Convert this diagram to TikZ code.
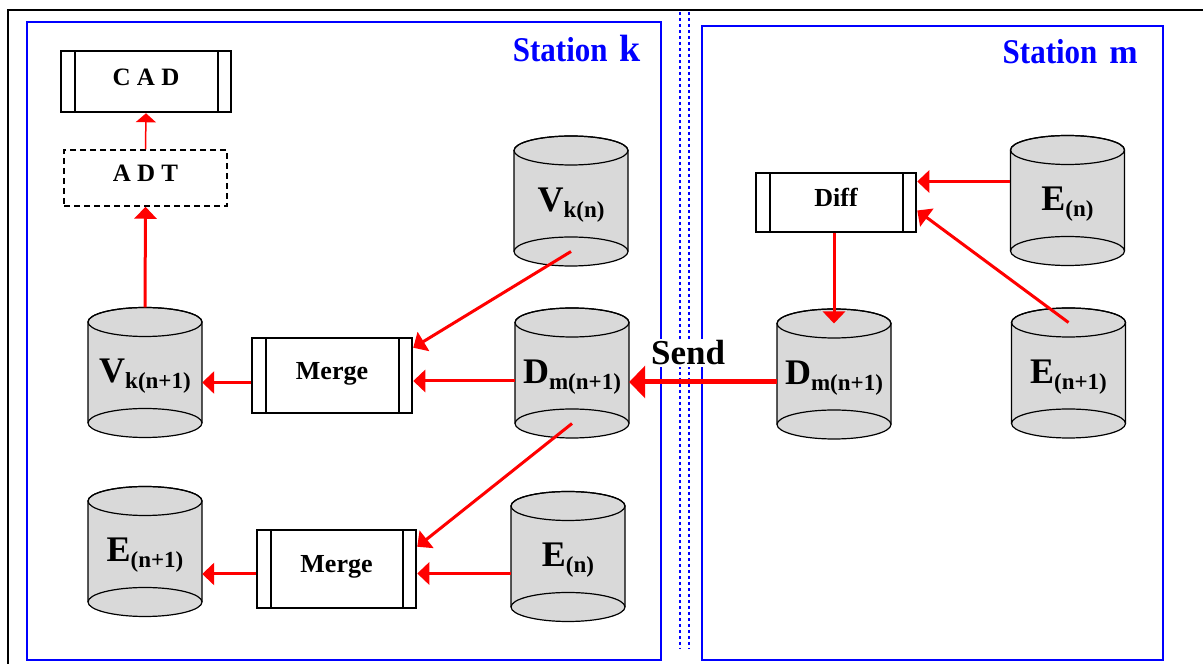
\documentclass[tikz,border=0pt]{standalone}
\usepackage{fontspec}
\setmainfont{Liberation Serif}
\usetikzlibrary{arrows.meta,calc}

\newcommand{\lab}[2]{{\fontsize{36}{36}\selectfont #1}\raisebox{-6pt}{\fontsize{23}{23}\selectfont #2}}
\newcommand{\dbase}[4]{%
  \filldraw[cyl,fill=black!15] (#2-57,#3+50.5) -- (#2-57,#3-50.5)
    arc (180:360:57pt and 14.5pt) -- (#2+57,#3+50.5)
    arc (0:180:57pt and 14.5pt) -- cycle;
  \draw[cyl] (#2,#3+50.5) ellipse (57pt and 14.5pt);
  \draw[cyl] (#2-57,#3-50.5) arc (180:0:57pt and 14.5pt);
  \node[store] (#1) at (#2,#3) {#4};
  \coordinate (#1-top) at (#2,#3+50.5);
  \coordinate (#1-bot) at (#2,#3-50.5);
}

\begin{document}
\begin{tikzpicture}[x=1pt,y=1pt]
      \tikzset{cyl/.style={draw=black,line width=1.2pt},
        store/.style={inner sep=0pt,minimum width=114pt,minimum height=130pt,
          text height=24pt,text depth=3pt,font=\bfseries},
        process/.style={draw,line width=2.5pt,inner sep=0pt,
          text height=17pt,text depth=9pt,
          font=\bfseries\fontsize{25}{25}\selectfont,
          path picture={
            \draw[line width=2pt] ([xshift=13.5pt]path picture bounding box.north west)
              -- ([xshift=13.5pt]path picture bounding box.south west);
            \draw[line width=2pt] ([xshift=-13.5pt]path picture bounding box.north east)
              -- ([xshift=-13.5pt]path picture bounding box.south east);}},
        adtbox/.style={draw,line width=1.5pt,dash pattern=on 6pt off 4pt,inner sep=0pt,
          text height=17pt,text depth=9pt,
          font=\bfseries\fontsize{25}{25}\selectfont},
        station/.style={draw=blue,line width=2.5pt},
        sepline/.style={draw=blue,line width=2pt,dash pattern=on 3pt off 3pt},
        stationlbl/.style={text=blue,font=\bfseries,inner sep=0pt,anchor=base east},
        flow/.style={draw=red,line width=3pt,-{Triangle[width=22pt,length=12pt]}},
        flowthin/.style={draw=red,line width=1.5pt,-{Triangle[width=20pt,length=9pt]}},
        sendflow/.style={draw=red,line width=5pt,-{Triangle[width=32pt,length=16pt]}}
      }
      \useasboundingbox (0,0) rectangle (1203,664);
      \draw[line width=2pt] (8,-5) -- (8,654) -- (1210,654);

      \draw[station] (27,4) rectangle (661,642);
      \draw[station] (702,4) rectangle (1163,638);
      \draw[sepline] (680,652) -- (680,15);
      \draw[sepline] (689,652) -- (689,15);

      \node[stationlbl] (stk) at (641,602)
        {\scalebox{1}[1.12]{\fontsize{31}{31}\selectfont Station}\hspace{12pt}{\fontsize{38}{38}\selectfont k}};
      \node[stationlbl] (stm) at (1138,600)
        {\scalebox{1}[1.12]{\fontsize{31}{31}\selectfont Station}\hspace{12pt}{\fontsize{34}{34}\selectfont m}};

      \dbase{Vkn}{571}{463}{\lab{V}{k(n)}}
      \dbase{Vk1}{145}{291.5}{\lab{V}{k(n+1)}}
      \dbase{Dl}{572}{291}{\lab{D}{m(n+1)}}
      \dbase{El1}{145}{112.5}{\lab{E}{(n+1)}}
      \dbase{Eln}{568}{107.5}{\lab{E}{(n)}}
      \dbase{Dr}{834}{290}{\lab{D}{m(n+1)}}
      \dbase{Ern}{1067.5}{463.5}{\lab{E}{(n)}}
      \dbase{Er1}{1068.5}{291}{\lab{E}{(n+1)}}

      \node[process,minimum width=170pt,minimum height=61pt] (CAD) at (146,582.5) {C A D};
      \node[adtbox,minimum width=163pt,minimum height=56pt] (ADT) at (145.5,486) {A D T};
      \node[process,minimum width=160pt,minimum height=75pt,
        font=\bfseries\fontsize{26}{26}\selectfont] (Merge1) at (332,288.5) {Merge};
      \node[process,minimum width=159pt,minimum height=78pt,
        font=\bfseries\fontsize{26}{26}\selectfont] (Merge2) at (336.5,95) {Merge};
      \node[process,minimum width=160pt,minimum height=59pt,
        font=\bfseries\fontsize{26}{26}\selectfont] (Diff) at (836,461.5) {Diff};

      \node[fill=white,inner sep=2pt,anchor=base,
        font=\bfseries\fontsize{35}{35}\selectfont] (send) at (688,299) {Send};

      \draw[flowthin] (ADT.north) -- (CAD.south);
      \draw[flow] (Vk1.north) -- (ADT.south);
      \draw[flow] ([yshift=-7pt]Merge1.west) -- ([yshift=-7pt]Merge1.west -| Vk1.east);
      \draw[flow] ([yshift=-8pt]Dl.west) -- ([yshift=-8pt]Dl.west -| Merge1.east);
      \draw[flow] (Vkn-bot) -- ([yshift=-11pt]Merge1.north east);
      \draw[flow] (Dl-bot) -- ([yshift=-18pt]Merge2.north east);
      \draw[flow] ([yshift=-17pt]Eln.west) -- ([yshift=-17pt]Eln.west -| Merge2.east);
      \draw[flow] ([yshift=-5pt]Merge2.west) -- ([yshift=-5pt]Merge2.west -| El1.east);
      \draw[sendflow] ([yshift=-8pt]Dr.west) -- ([yshift=-8pt]Dr.west -| Dl.east);
      \draw[flow] ([yshift=19pt]Ern.west) -- ([yshift=19pt]Ern.west -| Diff.east);
      \draw[flow] (Er1-top) -- ([yshift=-8pt]Diff.east);
      \draw[flow] (Dr-top |- Diff.south) -- (Dr-top);
    \end{tikzpicture}
\end{document}
